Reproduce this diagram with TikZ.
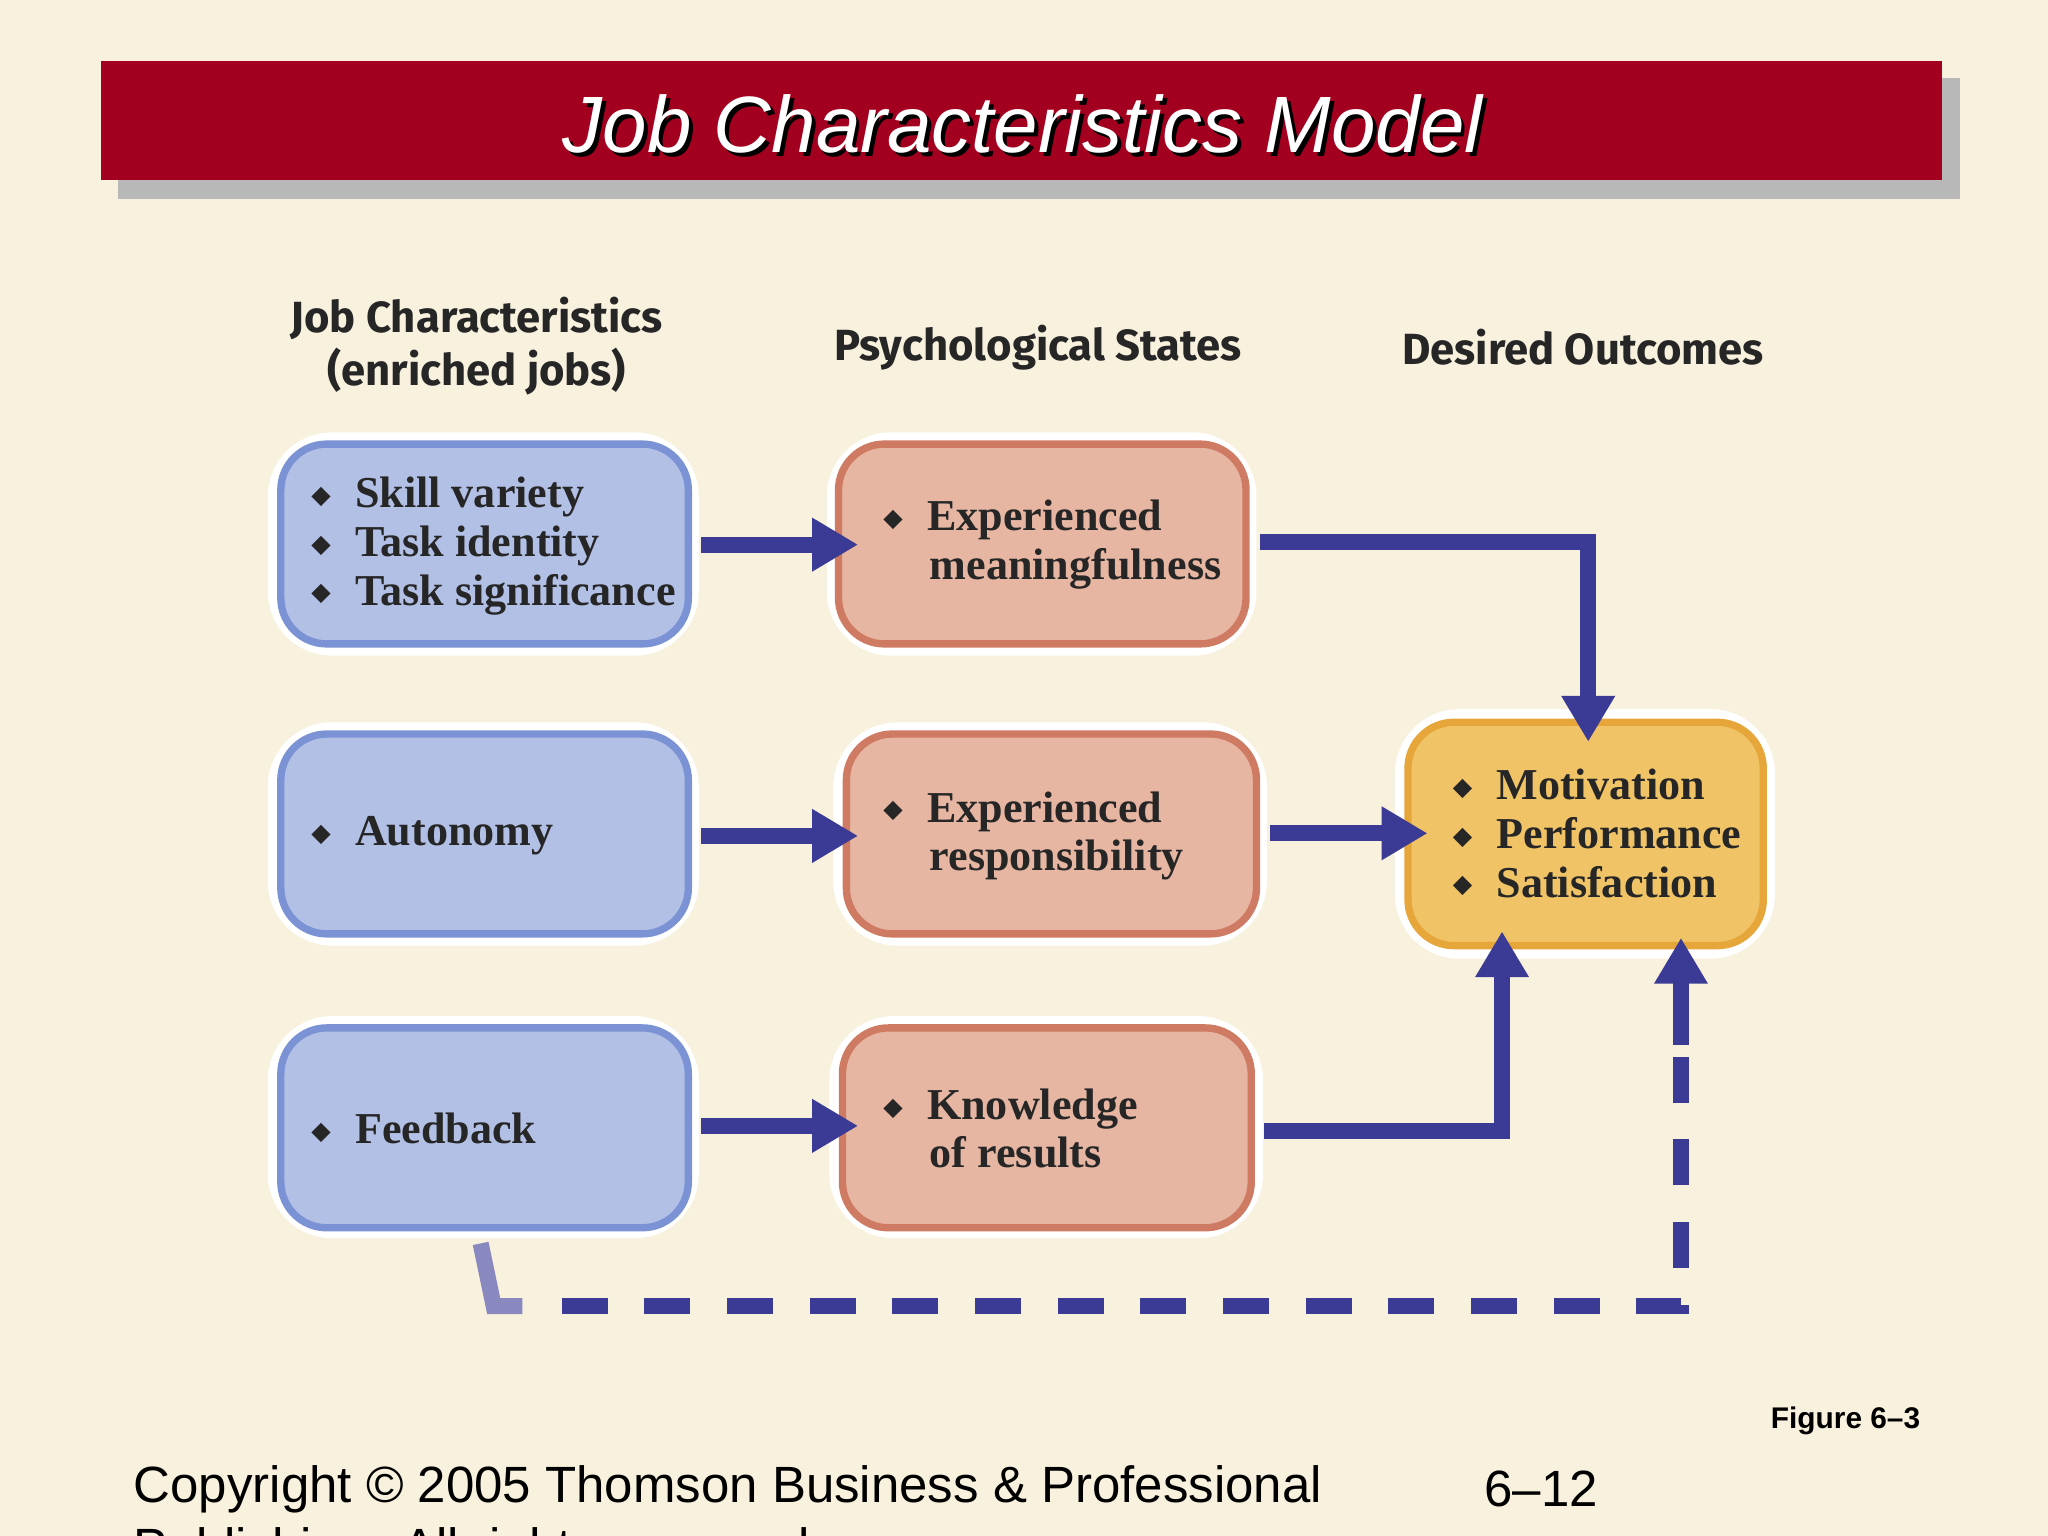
\documentclass[tikz,border=0pt]{standalone}
\usepackage{fontspec}
\setmainfont{Liberation Serif}
\setsansfont{Liberation Sans}
\newfontfamily\hdrfont{Fira Sans}
\newfontfamily\djfont{DejaVu Sans}
\usetikzlibrary{arrows.meta,shadows}
\definecolor{bg}{HTML}{F8F1DE}
\definecolor{tred}{HTML}{A30020}
\definecolor{arr}{HTML}{3B3B96}
\definecolor{bfill}{HTML}{B3C0E6}
\definecolor{bline}{HTML}{7B93D4}
\definecolor{sfill}{HTML}{E6B6A2}
\definecolor{sline}{HTML}{CF7A62}
\definecolor{ofill}{HTML}{F0C466}
\definecolor{oline}{HTML}{E6A63A}
\newcommand{\bul}{{\djfont\fontsize{5.5}{6}\selectfont\raisebox{0.3ex}{◆}}\hspace{0.55em}}
\tikzset{
 outer/.style={fill=white,rounded corners=14pt,draw=none},
 inner/.style={rounded corners=10pt,line width=1.6pt},
 bluebox/.style={inner,fill=bfill,draw=bline},
 salbox/.style={inner,fill=sfill,draw=sline},
 orbox/.style={inner,fill=ofill,draw=oline},
 btxt/.style={font=\fontsize{9.6}{10.6}\selectfont\bfseries,align=left,anchor=west,text=black!85},
 htxt/.style={font=\hdrfont\fontsize{9.5}{11.5}\selectfont\bfseries,align=center,text=black!85},
 flow/.style={arr,line width=3.5pt,-{Triangle[length=10pt,width=11pt]}},
 dflow/.style={arr,line width=3.5pt,dash pattern=on 10pt off 8pt}
}
\begin{document}
\begin{tikzpicture}[x=0.01cm,y=-0.01cm]
\useasboundingbox (0,0) rectangle (1568,1176);
\fill[bg] (0,0) rectangle (1568,1176);
% title
\fill[black!28] (90,60) rectangle (1501,152);
\fill[tred] (77,47) rectangle (1487,138);
\node[text=black,font=\sffamily\itshape\fontsize{17.4}{20}\selectfont] at (786,98) {Job Characteristics Model};
\node (title) [text=white,font=\sffamily\itshape\fontsize{17.4}{20}\selectfont] at (783,95) {Job Characteristics Model};
% headers
\node (h1) [htxt] at (365,265) {Job Characteristics\\(enriched jobs)};
\node (h2) [htxt] at (795,266) {Psychological States};
\node (h3) [htxt] at (1212,266) {Desired Outcomes};
% blue boxes
\fill[outer] (205,331) rectangle (535,502);
\draw[bluebox] (215,340) rectangle (527,493);
\node (b1) [btxt] at (226,418) {\bul Skill variety\\\bul Task identity\\\bul Task significance};
\coordinate (b1e) at (537,417);
\fill[outer] (205,553) rectangle (535,724);
\draw[bluebox] (215,562) rectangle (527,715);
\node (b2) [btxt] at (226,640) {\bul Autonomy};
\coordinate (b2e) at (537,640);
\fill[outer] (205,778) rectangle (535,948);
\draw[bluebox] (215,787) rectangle (527,940);
\node (b3) [btxt] at (226,864) {\bul Feedback};
\coordinate (b3e) at (537,862);
% salmon boxes
\fill[outer] (633,331) rectangle (962,502);
\draw[salbox] (642,340) rectangle (954,493);
\node (s1) [btxt] at (664,417) {\bul Experienced\\\hspace{1.05em}meaningfulness};
\fill[outer] (638,553) rectangle (970,724);
\draw[salbox] (648,562) rectangle (962,715);
\node (s2) [btxt] at (664,640) {\bul Experienced\\\hspace{1.05em}responsibility};
\fill[outer] (635,778) rectangle (967,948);
\draw[salbox] (645,787) rectangle (958,940);
\node (s3) [btxt] at (664,864) {\bul Knowledge\\\hspace{1.05em}of results};
% orange box
\fill[outer] (1068,543) rectangle (1359,734);
\draw[orbox] (1078,553) rectangle (1350,724);
\node (o) [btxt] at (1100,638) {\bul Motivation\\\bul Performance\\\bul Satisfaction};
% arrows
\coordinate (s1t) at (657,417);
\coordinate (s2t) at (657,640);
\coordinate (s3t) at (657,862);
\draw[flow] (b1e) -- (s1t);
\draw[flow] (b2e) -- (s2t);
\draw[flow] (b3e) -- (s3t);
\coordinate (s1e) at (965,415);
\coordinate (c1) at (1216,415);
\coordinate (o1) at (1216,568);
\draw[flow] (s1e) -- (c1) -- (o1);
\coordinate (s2e) at (972,638);
\coordinate (o2) at (1093,638);
\draw[flow] (s2e) -- (o2);
\coordinate (s3e) at (968,866);
\coordinate (c3) at (1150,866);
\coordinate (o3) at (1150,713);
\draw[flow] (s3e) -- (c3) -- (o3);
\coordinate (d0) at (368,952);
\coordinate (d1) at (378,1000);
\coordinate (d2) at (1287,1000);
\coordinate (d3) at (1287,718);
\draw[arr!60,line width=3.5pt] (d0) -- (d1) -- (400,1000);
\draw[dflow] (430,1000) -- (d2) -- (1287,770);
\draw[flow] (1287,800) -- (d3);
% footer
\node (fig) [font=\sffamily\bfseries\fontsize{6.5}{8}\selectfont] at (1413,1088) {Figure 6–3};
\node (copy) [anchor=west,font=\sffamily\fontsize{11.1}{14}\selectfont] at (90,1140) {Copyright © 2005 Thomson Business \& Professional};
\node (copy2) [anchor=west,font=\sffamily\fontsize{11.1}{14}\selectfont] at (90,1188) {Publishing. All rights reserved.};
\node (pg) [font=\sffamily\fontsize{11.1}{14}\selectfont] at (1180,1140) {6–12};
\end{tikzpicture}
\end{document}
